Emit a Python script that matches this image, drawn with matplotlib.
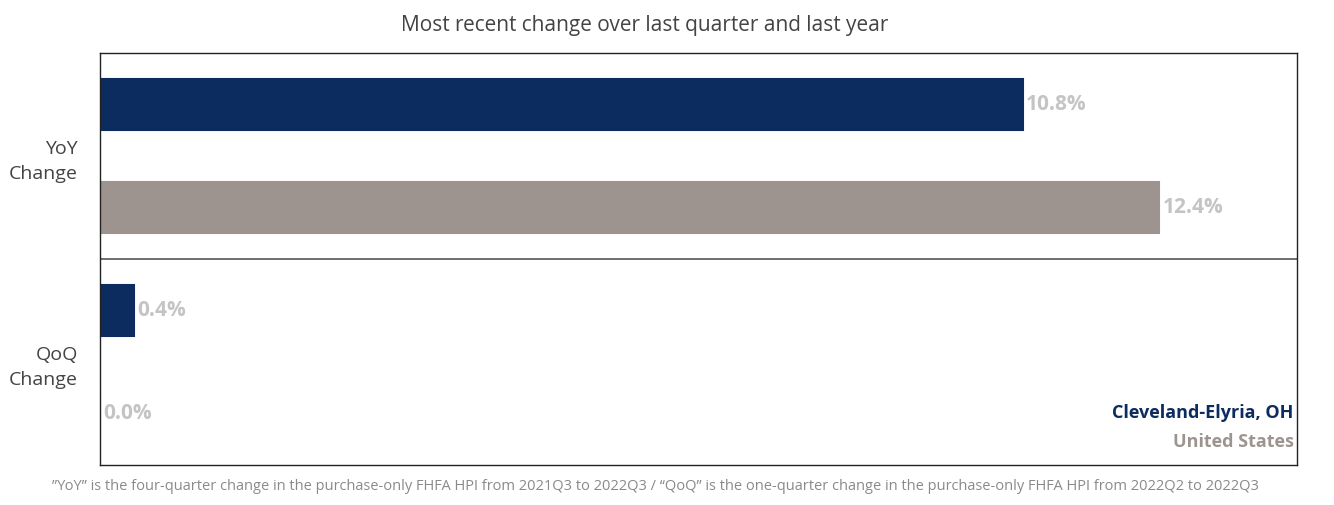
import matplotlib.pyplot as plt

# Data
groups = ["YoY\nChange", "QoQ\nChange"]
series = ["Cleveland-Elyria, OH", "United States"]
yoy = [10.8, 12.4]
qoq = [0.4, 0.0]
colors = ["#0c2b5e", "#9d948f"]

plt.rcParams["font.family"] = "Open Sans"

fig = plt.figure(figsize=(13.34, 5.05), dpi=100)
ax = fig.add_axes([100 / 1334, 1 - 465 / 505, 1197 / 1334, 412 / 505])

values = yoy + qoq
pos = [0, 1, 2, 3]
bar_cols = colors + colors
ax.barh(pos, values, height=0.5, color=bar_cols, edgecolor=bar_cols, linewidth=1.5)
for p, v in zip(pos, values):
    ax.text(v + 0.04, p, f"{v:.1f}%", va="center", ha="left",
            fontsize=15, fontweight="bold", color="#c4c4c4")

ax.set_xlim(0, 14.01)
ax.set_ylim(3.5, -0.5)
ax.axhline(1.5, color="#555555", lw=1.2)
ax.set_xticks([])
ax.set_yticks([0.5, 2.5])
ax.set_yticklabels(groups, fontsize=14, color="#444444", linespacing=1.5)
ax.tick_params(axis="y", length=0, pad=16)
for s in ax.spines.values():
    s.set_color("#222222")
    s.set_linewidth(1)

ax.text(0.997, 0.125, series[0], transform=ax.transAxes, ha="right", va="center",
        fontsize=13, fontweight="bold", color=colors[0])
ax.text(0.997, 0.055, series[1], transform=ax.transAxes, ha="right", va="center",
        fontsize=13, fontweight="bold", color=colors[1])

fig.text(645 / 1334, 1 - 25 / 505, "Most recent change over last quarter and last year",
         ha="center", va="center", fontsize=15, color="#444444")
fig.text(655 / 1334, 1 - 487 / 505,
         "\u201dYoY\u201d is the four-quarter change in the purchase-only FHFA HPI from 2021Q3 to 2022Q3 / "
         "\u201cQoQ\u201d is the one-quarter change in the purchase-only FHFA HPI from 2022Q2 to 2022Q3",
         ha="center", va="center", fontsize=10.5, color="#8a8a8a")

fig.savefig("out.png", dpi=100)
